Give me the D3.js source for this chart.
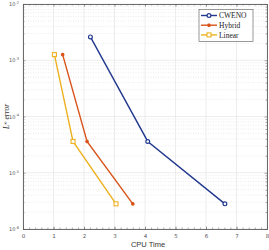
<!DOCTYPE html>
<html>
<head>
<meta charset="utf-8">
<script src="https://cdn.jsdelivr.net/npm/d3@7"></script>
<style>
  body { margin: 0; background: #fff; }
  svg { display: block; }
</style>
</head>
<body>
<svg id="chart"></svg>
<script>
// data
var seriesNames = ['CWENO', 'Hybrid', 'Linear'];
var cwenoTime = [2.21, 4.09, 6.62];
var cwenoErr = [2.6e-3, 3.6e-5, 2.8e-6];
var hybridTime = [1.30, 2.10, 3.60];
var hybridErr = [1.26e-3, 3.6e-5, 2.8e-6];
var linearTime = [1.03, 1.64, 3.05];
var linearErr = [1.26e-3, 3.6e-5, 2.8e-6];
var xTicks = [0, 1, 2, 3, 4, 5, 6, 7, 8];
var yTickExp = [-6, -5, -4, -3, -2];

var colors = { CWENO: '#22398f', Hybrid: '#d95319', Linear: '#edb120' };

function drawChart() {
  var W = 269, H = 250;
  var m = { left: 23, right: 2, top: 4, bottom: 21 };
  var chart = d3.select('#chart').attr('width', W).attr('height', H);

  var x = d3.scaleLinear().domain([0, 8]).range([m.left, W - m.right]);
  var y = d3.scaleLog().domain([1e-6, 1e-2]).range([H - m.bottom, m.top]);

  var series = [
    { name: 'CWENO', t: cwenoTime, e: cwenoErr },
    { name: 'Hybrid', t: hybridTime, e: hybridErr },
    { name: 'Linear', t: linearTime, e: linearErr }
  ];

  // minor grid (dotted)
  var minorY = [];
  yTickExp.slice(0, -1).forEach(function (p) {
    for (var k = 2; k <= 9; k++) minorY.push(k * Math.pow(10, p));
  });
  chart.append('g').selectAll('line').data(minorY).enter().append('line')
    .attr('x1', x(0)).attr('x2', x(8))
    .attr('y1', d => y(d)).attr('y2', d => y(d))
    .attr('stroke', '#d9d9d9').attr('stroke-width', 0.5)
    .attr('stroke-dasharray', '1,1.5');

  // major grid
  chart.append('g').selectAll('line').data(xTicks).enter().append('line')
    .attr('x1', d => x(d)).attr('x2', d => x(d))
    .attr('y1', y(1e-6)).attr('y2', y(1e-2))
    .attr('stroke', '#e0e0e0').attr('stroke-width', 0.6);
  chart.append('g').selectAll('line').data(yTickExp).enter().append('line')
    .attr('x1', x(0)).attr('x2', x(8))
    .attr('y1', d => y(Math.pow(10, d))).attr('y2', d => y(Math.pow(10, d)))
    .attr('stroke', '#e0e0e0').attr('stroke-width', 0.6);

  // axes with ticks pointing inward, on all four sides
  var xMinor = d3.range(0, 8.001, 0.2);
  var tickColor = '#555';
  chart.append('g').attr('transform', `translate(0,${y(1e-6)})`)
    .call(d3.axisBottom(x).tickValues(xMinor).tickSize(-1.5).tickFormat(''));
  var bottomMajor = chart.append('g').attr('transform', `translate(0,${y(1e-6)})`)
    .call(d3.axisBottom(x).tickValues(xTicks).tickSize(-2.5).tickPadding(5).tickFormat(d3.format('d')));
  chart.append('g').attr('transform', `translate(0,${y(1e-2)})`)
    .call(d3.axisTop(x).tickValues(xMinor).tickSize(-1.5).tickFormat(''));
  chart.append('g').attr('transform', `translate(0,${y(1e-2)})`)
    .call(d3.axisTop(x).tickValues(xTicks).tickSize(-2.5).tickFormat(''));

  chart.append('g').attr('transform', `translate(${x(0)},0)`)
    .call(d3.axisLeft(y).tickValues(minorY).tickSize(-1.5).tickFormat(''));
  chart.append('g').attr('transform', `translate(${x(0)},0)`)
    .call(d3.axisLeft(y).tickValues(yTickExp.map(p => Math.pow(10, p))).tickSize(-2.5).tickFormat(''));
  chart.append('g').attr('transform', `translate(${x(8)},0)`)
    .call(d3.axisRight(y).tickValues(minorY).tickSize(-1.5).tickFormat(''));
  chart.append('g').attr('transform', `translate(${x(8)},0)`)
    .call(d3.axisRight(y).tickValues(yTickExp.map(p => Math.pow(10, p))).tickSize(-2.5).tickFormat(''));

  chart.selectAll('.domain').attr('stroke', '#666').attr('stroke-width', 0.8);
  chart.selectAll('.tick line').attr('stroke', tickColor).attr('stroke-width', 0.5);
  bottomMajor.selectAll('text')
    .attr('font-family', 'DejaVu Sans, sans-serif').attr('font-size', 5.5).attr('fill', '#555');

  // y tick labels 10^p
  var yl = chart.append('g').selectAll('text').data(yTickExp).enter().append('text')
    .attr('x', x(0) - 4).attr('y', d => y(Math.pow(10, d)) + 2)
    .attr('text-anchor', 'end')
    .attr('font-family', 'DejaVu Sans, sans-serif').attr('font-size', 5).attr('fill', '#555');
  yl.append('tspan').text('10');
  yl.append('tspan').attr('dy', -2.2).attr('font-size', 3.6).text(d => d);

  // lines and markers
  var line = d3.line().x(d => x(d[0])).y(d => y(d[1]));
  series.forEach(function (s) {
    var pts = s.t.map((t, i) => [t, s.e[i]]);
    var c = colors[s.name];
    chart.append('path').attr('d', line(pts))
      .attr('fill', 'none').attr('stroke', c).attr('stroke-width', 1.4);
    pts.forEach(function (p) { drawMarker(chart, s.name, x(p[0]), y(p[1]), c); });
  });

  // legend
  var lg = chart.append('g');
  lg.append('rect').attr('x', 199).attr('y', 9.5).attr('width', 54).attr('height', 32)
    .attr('fill', '#fff').attr('stroke', '#555').attr('stroke-width', 0.6);
  seriesNames.forEach(function (n, i) {
    var yy = 15.5 + i * 9.7;
    var c = colors[n];
    lg.append('line').attr('x1', 201).attr('x2', 217).attr('y1', yy).attr('y2', yy)
      .attr('stroke', c).attr('stroke-width', 1.4);
    drawMarker(lg, n, 209, yy, c);
    lg.append('text').attr('x', 219).attr('y', yy + 2.6)
      .attr('font-family', 'Liberation Serif, serif').attr('font-size', 7.5).attr('fill', '#222')
      .text(n);
  });

  // axis labels
  chart.append('text').attr('x', (x(0) + x(8)) / 2 + 3).attr('y', 247)
    .attr('text-anchor', 'middle')
    .attr('font-family', 'Liberation Sans, Arial, sans-serif').attr('font-size', 7.5).attr('fill', '#333')
    .text('CPU Time');
  var ylab = chart.append('text')
    .attr('transform', `translate(9,${(y(1e-6) + y(1e-2)) / 2}) rotate(-90)`)
    .attr('text-anchor', 'middle')
    .attr('font-family', 'Liberation Serif, serif').attr('font-size', 7.5).attr('fill', '#222')
    .attr('font-style', 'italic');
  ylab.append('tspan').text('L');
  ylab.append('tspan').attr('dy', -2.5).attr('font-size', 5).attr('font-style', 'normal').text('\u221e');
  ylab.append('tspan').attr('dy', 2.5).text(' error');
}

function drawMarker(g, name, cx, cy, c) {
  if (name === 'CWENO') {
    g.append('circle').attr('cx', cx).attr('cy', cy).attr('r', 1.9)
      .attr('fill', '#fff').attr('stroke', c).attr('stroke-width', 1.2);
  } else if (name === 'Hybrid') {
    g.append('path').attr('transform', `translate(${cx},${cy})`)
      .attr('d', 'M-1.8,0 L1.8,0 M0,-1.8 L0,1.8 M-1.3,-1.3 L1.3,1.3 M-1.3,1.3 L1.3,-1.3')
      .attr('stroke', c).attr('stroke-width', 1.1);
  } else {
    g.append('rect').attr('x', cx - 2).attr('y', cy - 2).attr('width', 4).attr('height', 4)
      .attr('fill', '#fff').attr('stroke', c).attr('stroke-width', 1.1);
  }
}

drawChart();
</script>
</body>
</html>
